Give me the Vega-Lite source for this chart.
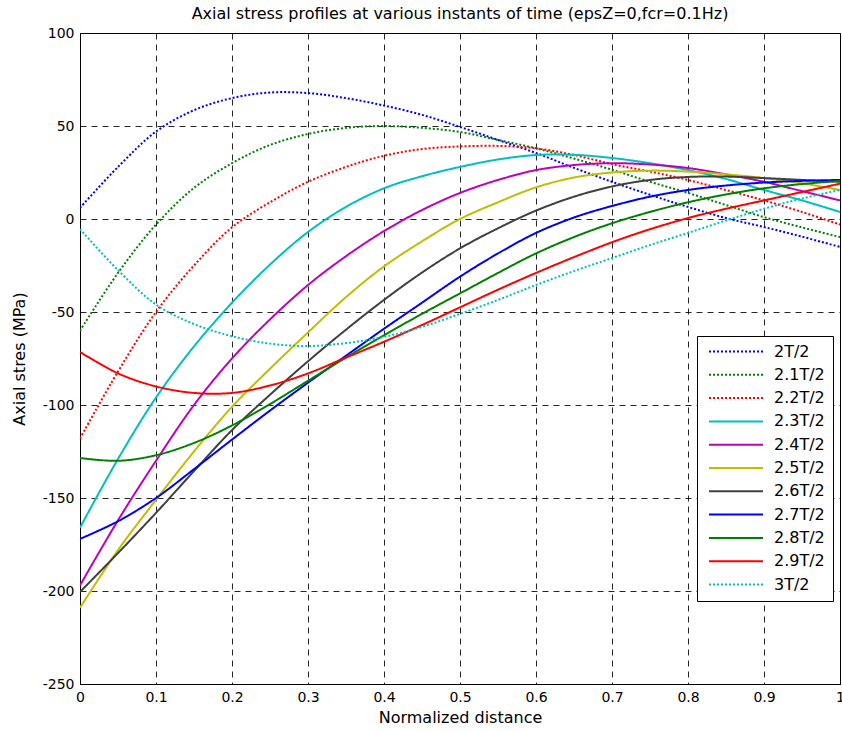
{
  "$schema": "https://vega.github.io/schema/vega-lite/v6.json",
  "autosize": {"type": "none"},
  "padding": {"left": 80, "top": 33, "right": 2, "bottom": 47},
  "width": 760,
  "height": 651,
  "background": "white",
  "title": {
    "text": "Axial stress profiles at various instants of time (epsZ=0,fcr=0.1Hz)",
    "font": "DejaVu Sans", "fontSize": 16, "fontWeight": "normal", "color": "black",
    "frame": "group", "anchor": "middle", "baseline": "alphabetic", "offset": 9, "dy": 18
  },
  "data": {"values": [
    {"s":"2T/2","x":0,"y":6},{"s":"2T/2","x":0.05,"y":28},{"s":"2T/2","x":0.1,"y":47},{"s":"2T/2","x":0.15,"y":58.5},{"s":"2T/2","x":0.2,"y":65},{"s":"2T/2","x":0.25,"y":68},{"s":"2T/2","x":0.3,"y":67.7},{"s":"2T/2","x":0.35,"y":65},{"s":"2T/2","x":0.4,"y":61},{"s":"2T/2","x":0.45,"y":56},{"s":"2T/2","x":0.5,"y":49.5},{"s":"2T/2","x":0.55,"y":42.5},{"s":"2T/2","x":0.6,"y":35.5},{"s":"2T/2","x":0.65,"y":27.5},{"s":"2T/2","x":0.7,"y":20},{"s":"2T/2","x":0.75,"y":13},{"s":"2T/2","x":0.8,"y":6.5},{"s":"2T/2","x":0.85,"y":0.5},{"s":"2T/2","x":0.9,"y":-4.3},{"s":"2T/2","x":0.95,"y":-9.5},{"s":"2T/2","x":1,"y":-15},
    {"s":"2.1T/2","x":0,"y":-60},{"s":"2.1T/2","x":0.05,"y":-29},{"s":"2.1T/2","x":0.1,"y":-3},{"s":"2.1T/2","x":0.15,"y":16.7},{"s":"2.1T/2","x":0.2,"y":30},{"s":"2.1T/2","x":0.25,"y":39.8},{"s":"2.1T/2","x":0.3,"y":45.7},{"s":"2.1T/2","x":0.35,"y":49},{"s":"2.1T/2","x":0.4,"y":50},{"s":"2.1T/2","x":0.45,"y":49},{"s":"2.1T/2","x":0.5,"y":46.8},{"s":"2.1T/2","x":0.55,"y":42.5},{"s":"2.1T/2","x":0.6,"y":38},{"s":"2.1T/2","x":0.65,"y":32.5},{"s":"2.1T/2","x":0.7,"y":26.5},{"s":"2.1T/2","x":0.75,"y":20},{"s":"2.1T/2","x":0.8,"y":14},{"s":"2.1T/2","x":0.85,"y":7.5},{"s":"2.1T/2","x":0.9,"y":1},{"s":"2.1T/2","x":0.95,"y":-4.5},{"s":"2.1T/2","x":1,"y":-9.7},
    {"s":"2.2T/2","x":0,"y":-118},{"s":"2.2T/2","x":0.05,"y":-82},{"s":"2.2T/2","x":0.1,"y":-50},{"s":"2.2T/2","x":0.15,"y":-25},{"s":"2.2T/2","x":0.2,"y":-4.5},{"s":"2.2T/2","x":0.25,"y":9},{"s":"2.2T/2","x":0.3,"y":20},{"s":"2.2T/2","x":0.35,"y":28},{"s":"2.2T/2","x":0.4,"y":34},{"s":"2.2T/2","x":0.45,"y":37.6},{"s":"2.2T/2","x":0.5,"y":39},{"s":"2.2T/2","x":0.55,"y":39.3},{"s":"2.2T/2","x":0.6,"y":38},{"s":"2.2T/2","x":0.65,"y":34.4},{"s":"2.2T/2","x":0.7,"y":29.5},{"s":"2.2T/2","x":0.75,"y":25.5},{"s":"2.2T/2","x":0.8,"y":21},{"s":"2.2T/2","x":0.85,"y":15.6},{"s":"2.2T/2","x":0.9,"y":10},{"s":"2.2T/2","x":0.95,"y":3.8},{"s":"2.2T/2","x":1,"y":-3},
    {"s":"2.3T/2","x":0,"y":-166},{"s":"2.3T/2","x":0.05,"y":-129},{"s":"2.3T/2","x":0.1,"y":-96},{"s":"2.3T/2","x":0.15,"y":-68.5},{"s":"2.3T/2","x":0.2,"y":-45},{"s":"2.3T/2","x":0.25,"y":-24.5},{"s":"2.3T/2","x":0.3,"y":-7},{"s":"2.3T/2","x":0.35,"y":6.5},{"s":"2.3T/2","x":0.4,"y":16.5},{"s":"2.3T/2","x":0.45,"y":23},{"s":"2.3T/2","x":0.5,"y":28},{"s":"2.3T/2","x":0.55,"y":32},{"s":"2.3T/2","x":0.6,"y":34.4},{"s":"2.3T/2","x":0.65,"y":34.5},{"s":"2.3T/2","x":0.7,"y":32.8},{"s":"2.3T/2","x":0.75,"y":30},{"s":"2.3T/2","x":0.8,"y":26.3},{"s":"2.3T/2","x":0.85,"y":21.5},{"s":"2.3T/2","x":0.9,"y":15.6},{"s":"2.3T/2","x":0.95,"y":10},{"s":"2.3T/2","x":1,"y":3.8},
    {"s":"2.4T/2","x":0,"y":-197},{"s":"2.4T/2","x":0.05,"y":-162},{"s":"2.4T/2","x":0.1,"y":-130},{"s":"2.4T/2","x":0.15,"y":-100},{"s":"2.4T/2","x":0.2,"y":-75},{"s":"2.4T/2","x":0.25,"y":-54},{"s":"2.4T/2","x":0.3,"y":-35.5},{"s":"2.4T/2","x":0.35,"y":-20},{"s":"2.4T/2","x":0.4,"y":-6.5},{"s":"2.4T/2","x":0.45,"y":4.8},{"s":"2.4T/2","x":0.5,"y":14},{"s":"2.4T/2","x":0.55,"y":21},{"s":"2.4T/2","x":0.6,"y":26.3},{"s":"2.4T/2","x":0.65,"y":29},{"s":"2.4T/2","x":0.7,"y":30},{"s":"2.4T/2","x":0.75,"y":29.3},{"s":"2.4T/2","x":0.8,"y":27.4},{"s":"2.4T/2","x":0.85,"y":24},{"s":"2.4T/2","x":0.9,"y":20},{"s":"2.4T/2","x":0.95,"y":15},{"s":"2.4T/2","x":1,"y":10},
    {"s":"2.5T/2","x":0,"y":-209},{"s":"2.5T/2","x":0.05,"y":-178},{"s":"2.5T/2","x":0.1,"y":-151},{"s":"2.5T/2","x":0.15,"y":-125},{"s":"2.5T/2","x":0.2,"y":-101},{"s":"2.5T/2","x":0.25,"y":-80.5},{"s":"2.5T/2","x":0.3,"y":-61},{"s":"2.5T/2","x":0.35,"y":-42},{"s":"2.5T/2","x":0.4,"y":-25.5},{"s":"2.5T/2","x":0.45,"y":-12},{"s":"2.5T/2","x":0.5,"y":0},{"s":"2.5T/2","x":0.55,"y":9},{"s":"2.5T/2","x":0.6,"y":17},{"s":"2.5T/2","x":0.65,"y":22.3},{"s":"2.5T/2","x":0.7,"y":25},{"s":"2.5T/2","x":0.75,"y":26},{"s":"2.5T/2","x":0.8,"y":25.5},{"s":"2.5T/2","x":0.85,"y":24},{"s":"2.5T/2","x":0.9,"y":22},{"s":"2.5T/2","x":0.95,"y":19.2},{"s":"2.5T/2","x":1,"y":15.6},
    {"s":"2.6T/2","x":0,"y":-200.5},{"s":"2.6T/2","x":0.05,"y":-179.6},{"s":"2.6T/2","x":0.1,"y":-158},{"s":"2.6T/2","x":0.15,"y":-135.5},{"s":"2.6T/2","x":0.2,"y":-113.5},{"s":"2.6T/2","x":0.25,"y":-94.5},{"s":"2.6T/2","x":0.3,"y":-76.5},{"s":"2.6T/2","x":0.35,"y":-59.5},{"s":"2.6T/2","x":0.4,"y":-43.5},{"s":"2.6T/2","x":0.45,"y":-28.8},{"s":"2.6T/2","x":0.5,"y":-15.8},{"s":"2.6T/2","x":0.55,"y":-5},{"s":"2.6T/2","x":0.6,"y":4.5},{"s":"2.6T/2","x":0.65,"y":12},{"s":"2.6T/2","x":0.7,"y":17.5},{"s":"2.6T/2","x":0.75,"y":21},{"s":"2.6T/2","x":0.8,"y":22.6},{"s":"2.6T/2","x":0.85,"y":22.8},{"s":"2.6T/2","x":0.9,"y":22},{"s":"2.6T/2","x":0.95,"y":21},{"s":"2.6T/2","x":1,"y":20},
    {"s":"2.7T/2","x":0,"y":-172},{"s":"2.7T/2","x":0.05,"y":-162.5},{"s":"2.7T/2","x":0.1,"y":-150},{"s":"2.7T/2","x":0.15,"y":-134.5},{"s":"2.7T/2","x":0.2,"y":-118.6},{"s":"2.7T/2","x":0.25,"y":-103},{"s":"2.7T/2","x":0.3,"y":-88},{"s":"2.7T/2","x":0.35,"y":-73.5},{"s":"2.7T/2","x":0.4,"y":-59},{"s":"2.7T/2","x":0.45,"y":-45},{"s":"2.7T/2","x":0.5,"y":-31},{"s":"2.7T/2","x":0.55,"y":-18.5},{"s":"2.7T/2","x":0.6,"y":-7.5},{"s":"2.7T/2","x":0.65,"y":0.8},{"s":"2.7T/2","x":0.7,"y":7},{"s":"2.7T/2","x":0.75,"y":12},{"s":"2.7T/2","x":0.8,"y":15.6},{"s":"2.7T/2","x":0.85,"y":18},{"s":"2.7T/2","x":0.9,"y":19.6},{"s":"2.7T/2","x":0.95,"y":20.5},{"s":"2.7T/2","x":1,"y":21},
    {"s":"2.8T/2","x":0,"y":-128.5},{"s":"2.8T/2","x":0.05,"y":-130},{"s":"2.8T/2","x":0.1,"y":-127},{"s":"2.8T/2","x":0.15,"y":-120.4},{"s":"2.8T/2","x":0.2,"y":-111},{"s":"2.8T/2","x":0.25,"y":-99.5},{"s":"2.8T/2","x":0.3,"y":-87},{"s":"2.8T/2","x":0.35,"y":-74.5},{"s":"2.8T/2","x":0.4,"y":-62.5},{"s":"2.8T/2","x":0.45,"y":-51},{"s":"2.8T/2","x":0.5,"y":-40},{"s":"2.8T/2","x":0.55,"y":-29},{"s":"2.8T/2","x":0.6,"y":-18.5},{"s":"2.8T/2","x":0.65,"y":-9.7},{"s":"2.8T/2","x":0.7,"y":-2.3},{"s":"2.8T/2","x":0.75,"y":3.8},{"s":"2.8T/2","x":0.8,"y":9},{"s":"2.8T/2","x":0.85,"y":13.2},{"s":"2.8T/2","x":0.9,"y":16.5},{"s":"2.8T/2","x":0.95,"y":18.8},{"s":"2.8T/2","x":1,"y":20.5},
    {"s":"2.9T/2","x":0,"y":-71.5},{"s":"2.9T/2","x":0.05,"y":-83},{"s":"2.9T/2","x":0.1,"y":-90},{"s":"2.9T/2","x":0.15,"y":-93.5},{"s":"2.9T/2","x":0.2,"y":-93.5},{"s":"2.9T/2","x":0.25,"y":-89.5},{"s":"2.9T/2","x":0.3,"y":-83},{"s":"2.9T/2","x":0.35,"y":-74.5},{"s":"2.9T/2","x":0.4,"y":-66},{"s":"2.9T/2","x":0.45,"y":-57},{"s":"2.9T/2","x":0.5,"y":-47.5},{"s":"2.9T/2","x":0.55,"y":-38},{"s":"2.9T/2","x":0.6,"y":-29},{"s":"2.9T/2","x":0.65,"y":-20.5},{"s":"2.9T/2","x":0.7,"y":-12.5},{"s":"2.9T/2","x":0.75,"y":-5.5},{"s":"2.9T/2","x":0.8,"y":0.5},{"s":"2.9T/2","x":0.85,"y":5.5},{"s":"2.9T/2","x":0.9,"y":10},{"s":"2.9T/2","x":0.95,"y":14.5},{"s":"2.9T/2","x":1,"y":19},
    {"s":"3T/2","x":0,"y":-5.4},{"s":"3T/2","x":0.05,"y":-27.5},{"s":"3T/2","x":0.1,"y":-46},{"s":"3T/2","x":0.15,"y":-56.5},{"s":"3T/2","x":0.2,"y":-63},{"s":"3T/2","x":0.25,"y":-67},{"s":"3T/2","x":0.3,"y":-68.3},{"s":"3T/2","x":0.35,"y":-66.7},{"s":"3T/2","x":0.4,"y":-63.4},{"s":"3T/2","x":0.45,"y":-58},{"s":"3T/2","x":0.5,"y":-51},{"s":"3T/2","x":0.55,"y":-43.5},{"s":"3T/2","x":0.6,"y":-35.5},{"s":"3T/2","x":0.65,"y":-28},{"s":"3T/2","x":0.7,"y":-21},{"s":"3T/2","x":0.75,"y":-14},{"s":"3T/2","x":0.8,"y":-7.5},{"s":"3T/2","x":0.85,"y":-0.8},{"s":"3T/2","x":0.9,"y":5.5},{"s":"3T/2","x":0.95,"y":11},{"s":"3T/2","x":1,"y":15.6}
  ]},
  "mark": {"type": "line", "interpolate": "catmull-rom", "strokeWidth": 2, "clip": true},
  "encoding": {
    "x": {
      "field": "x", "type": "quantitative",
      "scale": {"domain": [0, 1], "nice": false, "zero": false},
      "axis": {
        "title": "Normalized distance",
        "values": [0, 0.1, 0.2, 0.3, 0.4, 0.5, 0.6, 0.7, 0.8, 0.9, 1],
        "format": ".1~f", "labelFlush": false, "labelOverlap": false, "labelPadding": 6,
        "titlePadding": 5
      }
    },
    "y": {
      "field": "y", "type": "quantitative",
      "scale": {"domain": [-250, 100], "nice": false, "zero": false},
      "axis": {
        "title": "Axial stres (MPa)",
        "values": [-250, -200, -150, -100, -50, 0, 50, 100],
        "labelExpr": "'' + datum.value", "labelPadding": 6, "titlePadding": 15
      }
    },
    "color": {
      "field": "s", "type": "nominal",
      "scale": {
        "domain": ["2T/2", "2.1T/2", "2.2T/2", "2.3T/2", "2.4T/2", "2.5T/2", "2.6T/2", "2.7T/2", "2.8T/2", "2.9T/2", "3T/2"],
        "range": ["#0000FF", "#008000", "#FF0000", "#00BFBF", "#BF00BF", "#BFBF00", "#404040", "#0000FF", "#008000", "#FF0000", "#00BFBF"]
      },
      "legend": {"title": null}
    },
    "strokeDash": {
      "field": "s", "type": "nominal",
      "scale": {
        "domain": ["2T/2", "2.1T/2", "2.2T/2", "2.3T/2", "2.4T/2", "2.5T/2", "2.6T/2", "2.7T/2", "2.8T/2", "2.9T/2", "3T/2"],
        "range": [[2, 2], [2, 2], [2, 2], [1, 0], [1, 0], [1, 0], [1, 0], [1, 0], [1, 0], [1, 0], [2, 2]]
      },
      "legend": {"title": null}
    }
  },
  "config": {
    "view": {"stroke": "black", "strokeWidth": 1},
    "axis": {
      "domain": false, "ticks": false,
      "grid": true, "gridColor": "black", "gridDash": [6, 5], "gridOpacity": 0.85, "gridWidth": 1,
      "labelFont": "DejaVu Sans", "labelFontSize": 14, "labelColor": "black",
      "titleFont": "DejaVu Sans", "titleFontSize": 16, "titleFontWeight": "normal", "titleColor": "black"
    },
    "legend": {
      "orient": "none", "legendX": 617, "legendY": 303,
      "fillColor": "white", "strokeColor": "black", "padding": 7.5, "cornerRadius": 0,
      "symbolType": "stroke", "symbolSize": 2916, "symbolStrokeWidth": 2, "symbolOffset": 3.5,
      "labelFont": "DejaVu Sans", "labelFontSize": 16, "labelColor": "black", "labelOffset": 10,
      "clipHeight": 16, "rowPadding": 7.3
    }
  }
}
